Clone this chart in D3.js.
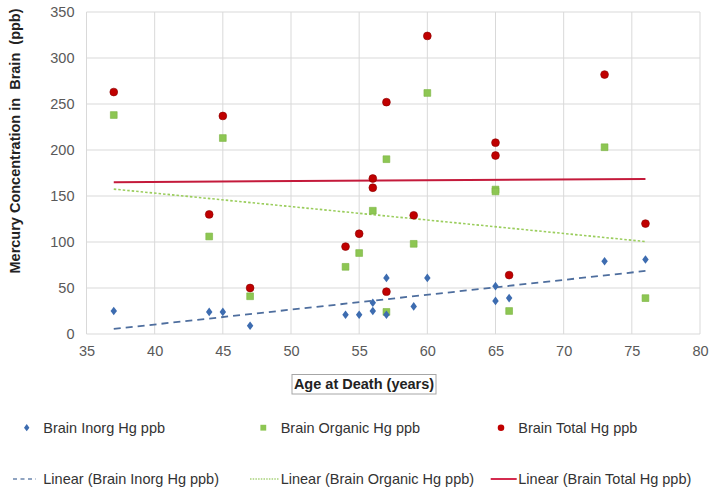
<!DOCTYPE html>
<html><head><meta charset="utf-8">
<script src="https://cdn.jsdelivr.net/npm/d3@7"></script>
<style>body{margin:0;background:#fff;}svg{display:block;}</style>
</head><body>
<script>
// ---- data ----
const inorgAge = [37,44,45,47,54,55,56,56,57,57,59,60,65,65,66,73,76];
const inorgVal = [25,24,24,9,21,21,25,34,61,21,30,61,52,36,39,79,81];
const organicAge = [37,44,45,47,54,55,56,57,57,59,60,65,65,66,73,76];
const organicVal = [238,106,213,41,73,88,134,190,24,98,262,157,155,25,203,39];
const totalAge = [37,44,45,47,54,55,56,56,57,57,59,60,65,65,66,73,76];
const totalVal = [263,130,237,50,95,109,169,159,252,46,129,324,208,194,64,282,120];
const trendAge = [37,76];
const trendInorg = [5.5,68.5];
const trendOrganic = [157.5,100.5];
const trendTotal = [165,168.5];
const xTicks = [35,40,45,50,55,60,65,70,75,80];
const yTicks = [0,50,100,150,200,250,300,350];
const seriesNames = ["Brain Inorg Hg ppb","Brain Organic Hg ppb","Brain Total Hg ppb"];
const trendNames = ["Linear (Brain Inorg Hg ppb)","Linear (Brain Organic Hg ppb)","Linear (Brain Total Hg ppb)"];

const W=711,H=492;
const svg=d3.select("body").append("svg").attr("width",W).attr("height",H);
const x=d3.scaleLinear().domain([35,80]).range([86.5,700]);
const y=d3.scaleLinear().domain([0,350]).range([334,12]);
const font="'Liberation Sans', Arial, sans-serif";
const gridC="#d9d9d9", tickC="#595959";
const cBlue="#3d6cb0", cGreen="#8dc653", cRed="#c00000";

// grid
const g=svg.append("g");
g.selectAll(".vg").data(xTicks).join("line")
 .attr("x1",d=>x(d)).attr("x2",d=>x(d)).attr("y1",y(0)).attr("y2",y(350))
 .attr("stroke",gridC).attr("stroke-width",1);
g.selectAll(".hg").data(yTicks).join("line")
 .attr("y1",d=>y(d)).attr("y2",d=>y(d)).attr("x1",x(35)).attr("x2",x(80))
 .attr("stroke",gridC).attr("stroke-width",1);

// axes (labels only)
const xa=svg.append("g").attr("transform",`translate(0,${y(0)})`)
 .call(d3.axisBottom(x).tickValues(xTicks).tickSize(0).tickPadding(12));
const ya=svg.append("g").attr("transform",`translate(${x(35)},0)`)
 .call(d3.axisLeft(y).tickValues(yTicks).tickSize(0).tickPadding(12));
[xa,ya].forEach(a=>{a.select(".domain").remove();
 a.selectAll("text").attr("font-family",font).attr("font-size",14.5).attr("fill",tickC);});

// trend lines
const line=d3.line().x(d=>x(d[0])).y(d=>y(d[1]));
svg.append("path").datum(d3.zip(trendAge,trendOrganic)).attr("d",line)
 .attr("fill","none").attr("stroke","#9acd5c").attr("stroke-width",1.6).attr("stroke-dasharray","2.5,2");
svg.append("path").datum(d3.zip(trendAge,trendTotal)).attr("d",line)
 .attr("fill","none").attr("stroke","#c41a3b").attr("stroke-width",2);
svg.append("path").datum(d3.zip(trendAge,trendInorg)).attr("d",line)
 .attr("fill","none").attr("stroke","#4e6e9e").attr("stroke-width",1.8).attr("stroke-dasharray","7,5");

// points
const sym=(type,size)=>d3.symbol().type(type).size(size)();
function diamond(s){return `M0,${-s}L${s*0.75},0L0,${s}L${-s*0.75},0Z`;}
svg.append("g").selectAll("path").data(d3.zip(organicAge,organicVal)).join("path")
 .attr("d",sym(d3.symbolSquare,46)).attr("transform",d=>`translate(${x(d[0])},${y(d[1])})`)
 .attr("fill",cGreen).attr("stroke","#7ab33f").attr("stroke-width",0.6);
svg.append("g").selectAll("path").data(d3.zip(totalAge,totalVal)).join("path")
 .attr("d",sym(d3.symbolCircle,48)).attr("transform",d=>`translate(${x(d[0])},${y(d[1])})`)
 .attr("fill",cRed).attr("stroke","#8a0000").attr("stroke-width",0.6);
svg.append("g").selectAll("path").data(d3.zip(inorgAge,inorgVal)).join("path")
 .attr("d",diamond(4.3)).attr("transform",d=>`translate(${x(d[0])},${y(d[1])})`)
 .attr("fill",cBlue);

// axis titles
svg.append("text").attr("transform","translate(20,141) rotate(-90)")
 .attr("text-anchor","middle").attr("font-family",font).attr("font-weight","bold")
 .attr("font-size",14.5).attr("fill","#222").attr("xml:space","preserve")
 .text("Mercury Concentration in  Brain  (ppb)");
svg.append("rect").attr("x",292).attr("y",374.5).attr("width",144).attr("height",19.5)
 .attr("fill","#fff").attr("stroke","#a6a6a6").attr("stroke-width",1);
svg.append("text").attr("x",364).attr("y",389).attr("text-anchor","middle")
 .attr("font-family",font).attr("font-weight","bold").attr("font-size",14.5).attr("fill","#222")
 .text("Age at Death (years)");

// legend
const leg=svg.append("g").attr("font-family",font).attr("font-size",14.5).attr("fill","#333");
const legX=[26.7,263.3,501], legTX=[43.3,280.7,518.3];
leg.append("path").attr("d",diamond(3.6)).attr("transform",`translate(${legX[0]},427.7)`).attr("fill",cBlue);
leg.append("path").attr("d",sym(d3.symbolSquare,34)).attr("transform",`translate(${legX[1]},427.7)`).attr("fill",cGreen);
leg.append("path").attr("d",sym(d3.symbolCircle,34)).attr("transform",`translate(${legX[2]},427.7)`).attr("fill",cRed);
leg.selectAll(".l1").data(seriesNames).join("text").attr("x",(d,i)=>legTX[i]).attr("y",432.7).text(d=>d);
const lineX=[[13,36],[250,279.3],[490.7,516.7]];
const lineStyle=[["#6c86ad",1.6,"4,3.5"],["#a8d27a",1.3,"1.5,1.2"],["#d0143c",1.8,null]];
lineX.forEach((lx,i)=>{
 const p=leg.append("line").attr("x1",lx[0]).attr("x2",lx[1]).attr("y1",479).attr("y2",479)
  .attr("stroke",lineStyle[i][0]).attr("stroke-width",lineStyle[i][1]);
 if(lineStyle[i][2]) p.attr("stroke-dasharray",lineStyle[i][2]);
});
leg.selectAll(".l2").data(trendNames).join("text").attr("x",(d,i)=>legTX[i]).attr("y",484).text(d=>d);
</script>
</body></html>
